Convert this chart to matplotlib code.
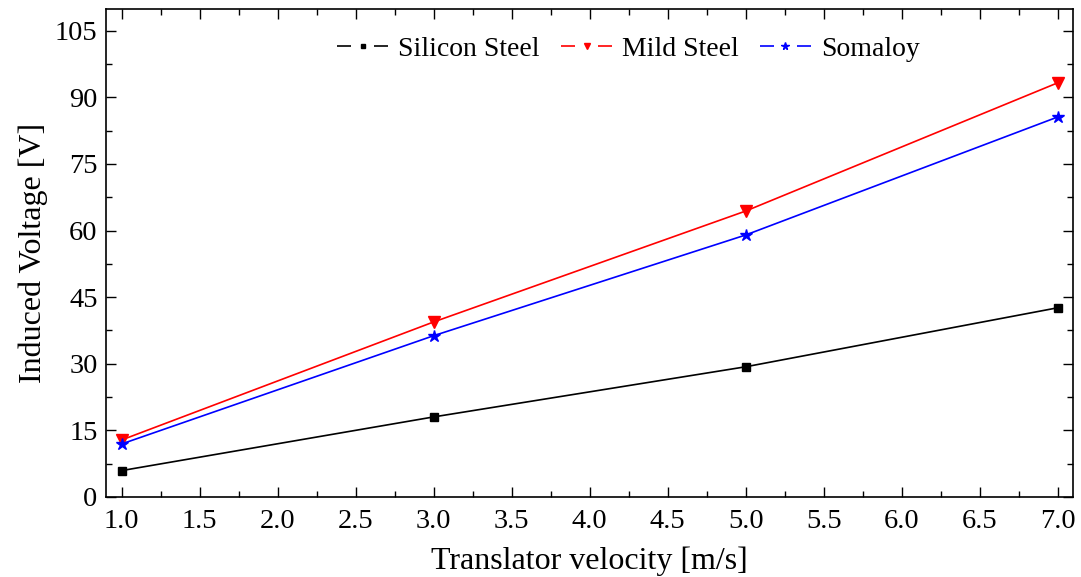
import numpy as np
import matplotlib.pyplot as plt
from matplotlib.ticker import MultipleLocator
from matplotlib.lines import Line2D

plt.rcParams['font.family'] = ['Liberation Serif', 'DejaVu Serif']
plt.rcParams['mathtext.fontset'] = 'stix'

# data
velocity = [1.0, 3.0, 5.0, 7.0]
silicon_steel = [5.9, 18.0, 29.3, 42.6]
mild_steel = [12.8, 39.4, 64.4, 93.3]
somaloy = [11.9, 36.3, 59.0, 85.6]
names = ['Silicon Steel', 'Mild Steel', 'Somaloy']

fig, ax = plt.subplots(figsize=(10.81, 5.77), dpi=100)
fig.subplots_adjust(left=0.098, right=0.993, top=0.985, bottom=0.139)

styles = [('black', 's', 5.5), ('red', 'v', 8), ('blue', '*', 9)]
for ys, (c, m, ms), name in zip([silicon_steel, mild_steel, somaloy], styles, names):
    ax.plot(velocity, ys, color=c, lw=1.2, marker=m, ms=ms, label=name)

ax.set_xlim(0.9, 7.1)
ax.set_ylim(0, 110)
ax.xaxis.set_major_locator(MultipleLocator(0.5))
ax.xaxis.set_minor_locator(MultipleLocator(0.25))
ax.yaxis.set_major_locator(MultipleLocator(15))
ax.yaxis.set_minor_locator(MultipleLocator(7.5))
ax.xaxis.set_major_formatter(plt.FormatStrFormatter('%.1f'))
ax.tick_params(which='both', direction='in', top=True, right=True, labelsize=20.5)
ax.tick_params(axis='x', pad=9)
ax.tick_params(axis='y', pad=6)
ax.tick_params(which='major', length=7, width=1)
ax.tick_params(which='minor', length=4, width=1)
for sp in ax.spines.values():
    sp.set_linewidth(1.2)

ax.set_xlabel('Translator velocity [m/s]', fontsize=23, labelpad=9)
ax.set_ylabel('Induced Voltage [V]', fontsize=23, labelpad=5)

# legend handles: line broken around the marker
handles = [Line2D([], [], color=c, lw=1.2, linestyle=(0, (8.4, 13.8)),
                  marker=m, ms=ms * 0.6) for c, m, ms in styles]
ax.legend(handles, names, loc='upper center', bbox_to_anchor=(0.54, 0.995), ncol=3,
          frameon=False, fontsize=20, handlelength=1.85, columnspacing=0.75,
          handletextpad=0.35)

fig.savefig('out.png', dpi=100)
